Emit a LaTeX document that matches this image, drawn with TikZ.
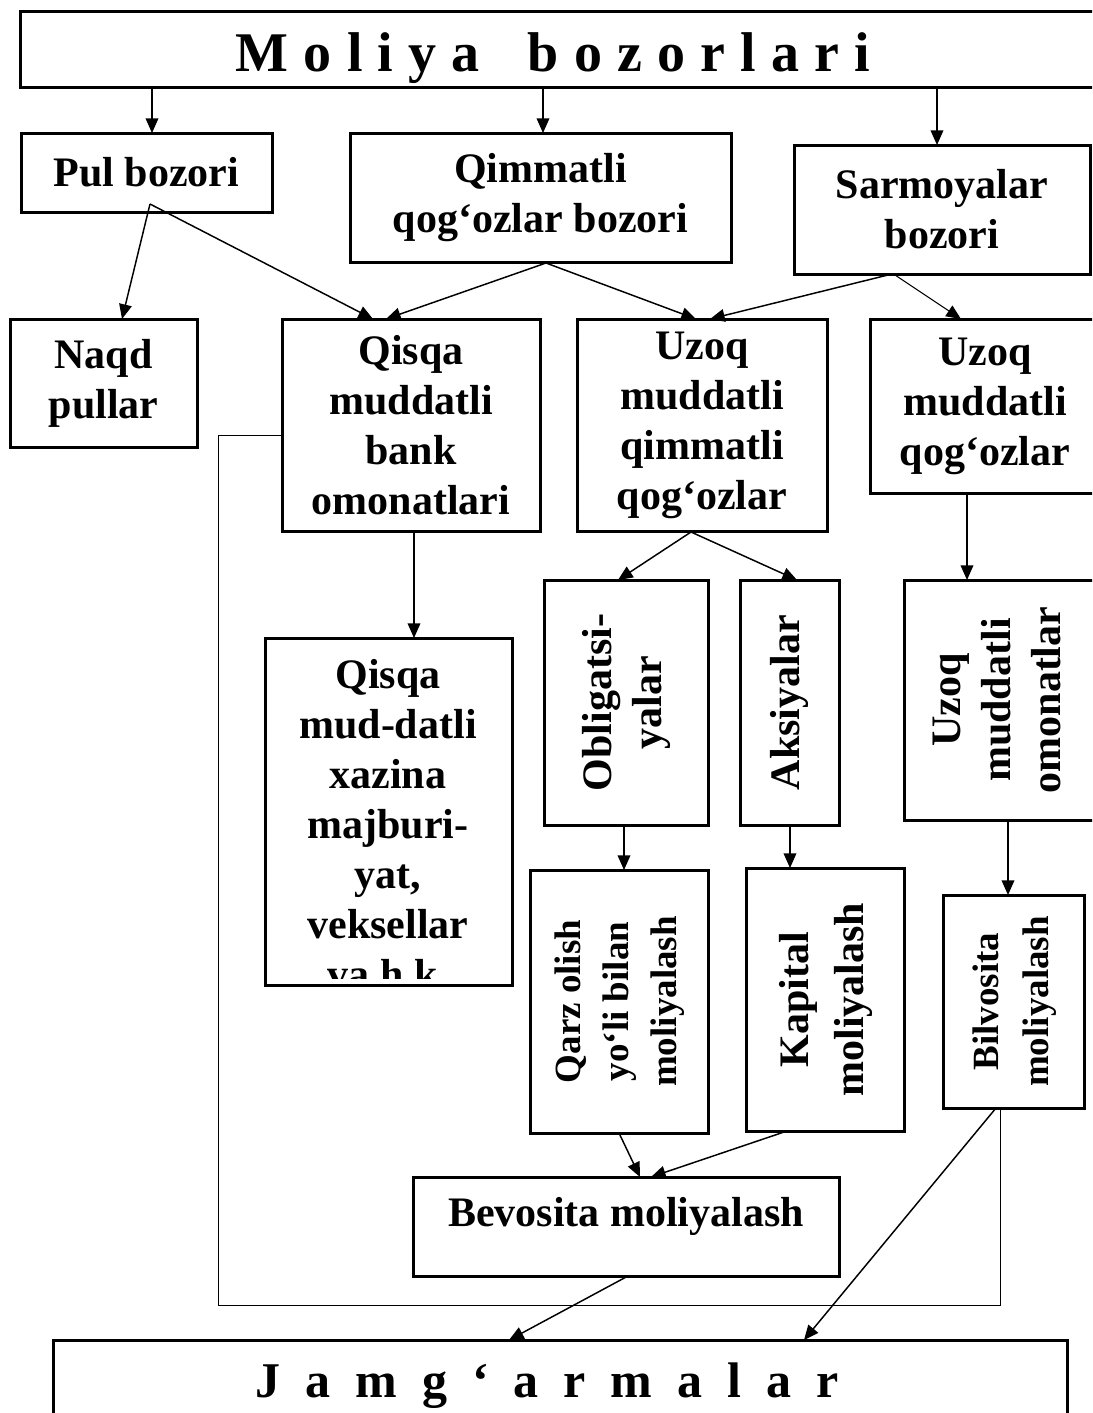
\documentclass[tikz,border=0pt]{standalone}
\usepackage{fontspec}
\setmainfont{Liberation Serif}
\usepackage{graphicx}
\usetikzlibrary{arrows.meta}

% text sizes
\newcommand\bodyfont{\fontsize{31.5}{37.5}\selectfont\bfseries}
\newcommand\titlefont{\fontsize{42}{50}\selectfont\bfseries}
\newcommand\bottomfont{\fontsize{37.5}{45}\selectfont\bfseries}
% rotated multi-line label, read from bottom to top
\newcommand\vtext[1]{\rotatebox{90}{\begin{tabular}{@{}c@{}}#1\end{tabular}}}
% letter spacing of the two headings
\newcommand\gapL{\hspace{11.4pt}}
\newcommand\gapW{\hspace{36pt}}
\newcommand\gapJ{\hspace{18.75pt}}

\begin{document}
\begin{tikzpicture}[x=0.75pt,y=-0.75pt,
  box/.style={draw, line width=2.25pt, inner sep=0pt, outer sep=0pt, align=center, font=\bodyfont},
  arr/.style={-{Triangle[length=11pt,width=9.5pt]}, line width=1.1pt},
  thinarr/.style={-{Triangle[length=11pt,width=9.5pt]}, line width=0.75pt},
  route/.style={line width=0.75pt},
  txt/.style={inner sep=0pt, align=center}]
\useasboundingbox (0,0) rectangle (1092,1413);
\clip (0,0) rectangle (1092,1413);

% ---------- boxes ----------
\node[box, minimum width=885pt, minimum height=57pt] (top) at (610,50) {};
\node[txt, font=\titlefont, anchor=base] (toptxt) at (553,72)
  {M\gapL o\gapL l\gapL i\gapL y\gapL a\gapW b\gapL o\gapL z\gapL o\gapL r\gapL l\gapL a\gapL r\gapL i};

\node[box, minimum width=188.25pt, minimum height=59.25pt] (pul) at (146.5,172.5) {Pul bozori};
\node[box, minimum width=285.75pt, minimum height=96.75pt] (qim) at (540.5,197.5) {Qimmatli\\qog‘ozlar bozori};
\node[box, minimum width=222pt, minimum height=96.75pt] (sar) at (942,209.5) {Sarmoyalar\\bozori};

\node[box, minimum width=140.25pt, minimum height=96pt] (naqd) at (103.5,383) {Naqd\\pullar};
\node[box, minimum width=193.5pt, minimum height=159pt] (qbank) at (411,425) {Qisqa\\muddatli\\bank\\omonatlari};
\node[box, minimum width=187.5pt, minimum height=159pt] (uqq) at (702,425) {Uzoq\\muddatli\\qimmatli\\qog‘ozlar};
\node[box, minimum width=172.5pt, minimum height=130.5pt] (uqz) at (985,406) {Uzoq\\muddatli\\qog‘ozlar};

\node[box, minimum width=185.25pt, minimum height=260.25pt] (qxaz) at (388.5,811.5) {};
\begin{scope}
  \clip (268,641) rectangle (509,978);
  \node[txt, font=\bodyfont, anchor=north] (qxaztxt) at (388,659)
    {Qisqa\\mud-datli\\xazina\\majburi-\\yat,\\veksellar\\va h.k.};
\end{scope}

\node[box, minimum width=123pt, minimum height=183.75pt] (obl) at (626,702.5) {\vtext{Obligatsi-\\yalar}};
\node[box, minimum width=74.25pt, minimum height=183.75pt] (aks) at (789.5,702.5) {\vtext{Aksiyalar}};
\node[box, minimum width=144pt, minimum height=180pt] (uom) at (1000,700) {\vtext{Uzoq\\muddatli\\omonatlar}};

\node[box, minimum width=133.5pt, minimum height=197.25pt, font=\fontsize{27.75}{36}\selectfont\bfseries] (qarz)
  at (619,1001.5) {\vtext{Qarz olish\\yo‘li bilan\\moliyalash}};
\node[box, minimum width=118.5pt, minimum height=197.25pt, font=\fontsize{31.5}{41}\selectfont\bfseries] (kap)
  at (825,999.5) {\vtext{Kapital\\moliyalash}};
\node[box, minimum width=105.75pt, minimum height=159.75pt, font=\fontsize{27.75}{37.5}\selectfont\bfseries] (bil)
  at (1013.5,1001.5) {\vtext{Bilvosita\\moliyalash}};

\node[box, minimum width=319.5pt, minimum height=74.25pt] (bev) at (626,1226.5) {};
\node[txt, font=\bodyfont] (bevtxt) at (626,1216) {Bevosita moliyalash};

\node[box, minimum width=760.5pt, minimum height=90pt] (jam) at (560,1400) {};
\node[txt, font=\bottomfont, anchor=base] (jamtxt) at (547,1397)
  {J\gapJ a\gapJ m\gapJ g\gapJ ‘\gapJ a\gapJ r\gapJ m\gapJ a\gapJ l\gapJ a\gapJ r};

% ---------- helper positions for the connectors ----------
\coordinate (c1) at (152,0);
\coordinate (c2) at (543,0);
\coordinate (c3) at (937,0);
\coordinate (ps) at (150,204);
\coordinate (qs) at (546,263);
\coordinate (ss) at (888,275);
\coordinate (ss2) at (895,275);
\coordinate (us) at (691,532);
\coordinate (k1) at (122,0);
\coordinate (k2) at (373,0);
\coordinate (k3) at (386,0);
\coordinate (k4) at (696,0);
\coordinate (k5) at (710,0);
\coordinate (k6) at (961,0);
\coordinate (k7) at (414,0);
\coordinate (k8) at (618,0);
\coordinate (k9) at (797,0);
\coordinate (k10) at (967,0);
\coordinate (k11) at (624,0);
\coordinate (k12) at (790,0);
\coordinate (k13) at (1008,0);
\coordinate (k14) at (619,0);
\coordinate (k15) at (640,0);
\coordinate (k16) at (787,0);
\coordinate (k17) at (651,0);
\coordinate (k18) at (628,0);
\coordinate (k19) at (509,0);
\coordinate (k20) at (996,0);
\coordinate (k21) at (804,0);
\coordinate (ry) at (0,435);
\coordinate (rb) at (218,1305);
\coordinate (rr) at (1000,1305);

% ---------- connectors ----------
\draw[arr] (c1 |- top.south) -- (c1 |- pul.north);
\draw[arr] (c2 |- top.south) -- (c2 |- qim.north);
\draw[arr] (c3 |- top.south) -- (c3 |- sar.north);

\draw[arr] (ps) -- (k1 |- naqd.north);
\draw[arr] (ps) -- (k2 |- qbank.north);
\draw[arr] (qs) -- (k3 |- qbank.north);
\draw[arr] (qs) -- (k4 |- uqq.north);
\draw[arr] (ss) -- (k5 |- uqq.north);
\draw[thinarr] (ss2) -- (k6 |- uqz.north);

\draw[arr] (k7 |- qbank.south) -- (k7 |- qxaz.north);
\draw[arr] (us) -- (k8 |- obl.north);
\draw[arr] (us) -- (k9 |- aks.north);
\draw[arr] (k10 |- uqz.south) -- (k10 |- uom.north);

\draw[arr] (k11 |- obl.south) -- (k11 |- qarz.north);
\draw[arr] (k12 |- aks.south) -- (k12 |- kap.north);
\draw[arr] (k13 |- uom.south) -- (k13 |- bil.north);

\draw[arr] (k14 |- qarz.south) -- (k15 |- bev.north);
\draw[arr] (k16 |- kap.south) -- (k17 |- bev.north);
\draw[arr] (k18 |- bev.south) -- (k19 |- jam.north);
\draw[arr] (k20 |- bil.south) -- (k21 |- jam.north);

\draw[route] (qbank.west |- ry) -| (rb) -- (rr) -- (rr |- bil.south);
\end{tikzpicture}
\end{document}
